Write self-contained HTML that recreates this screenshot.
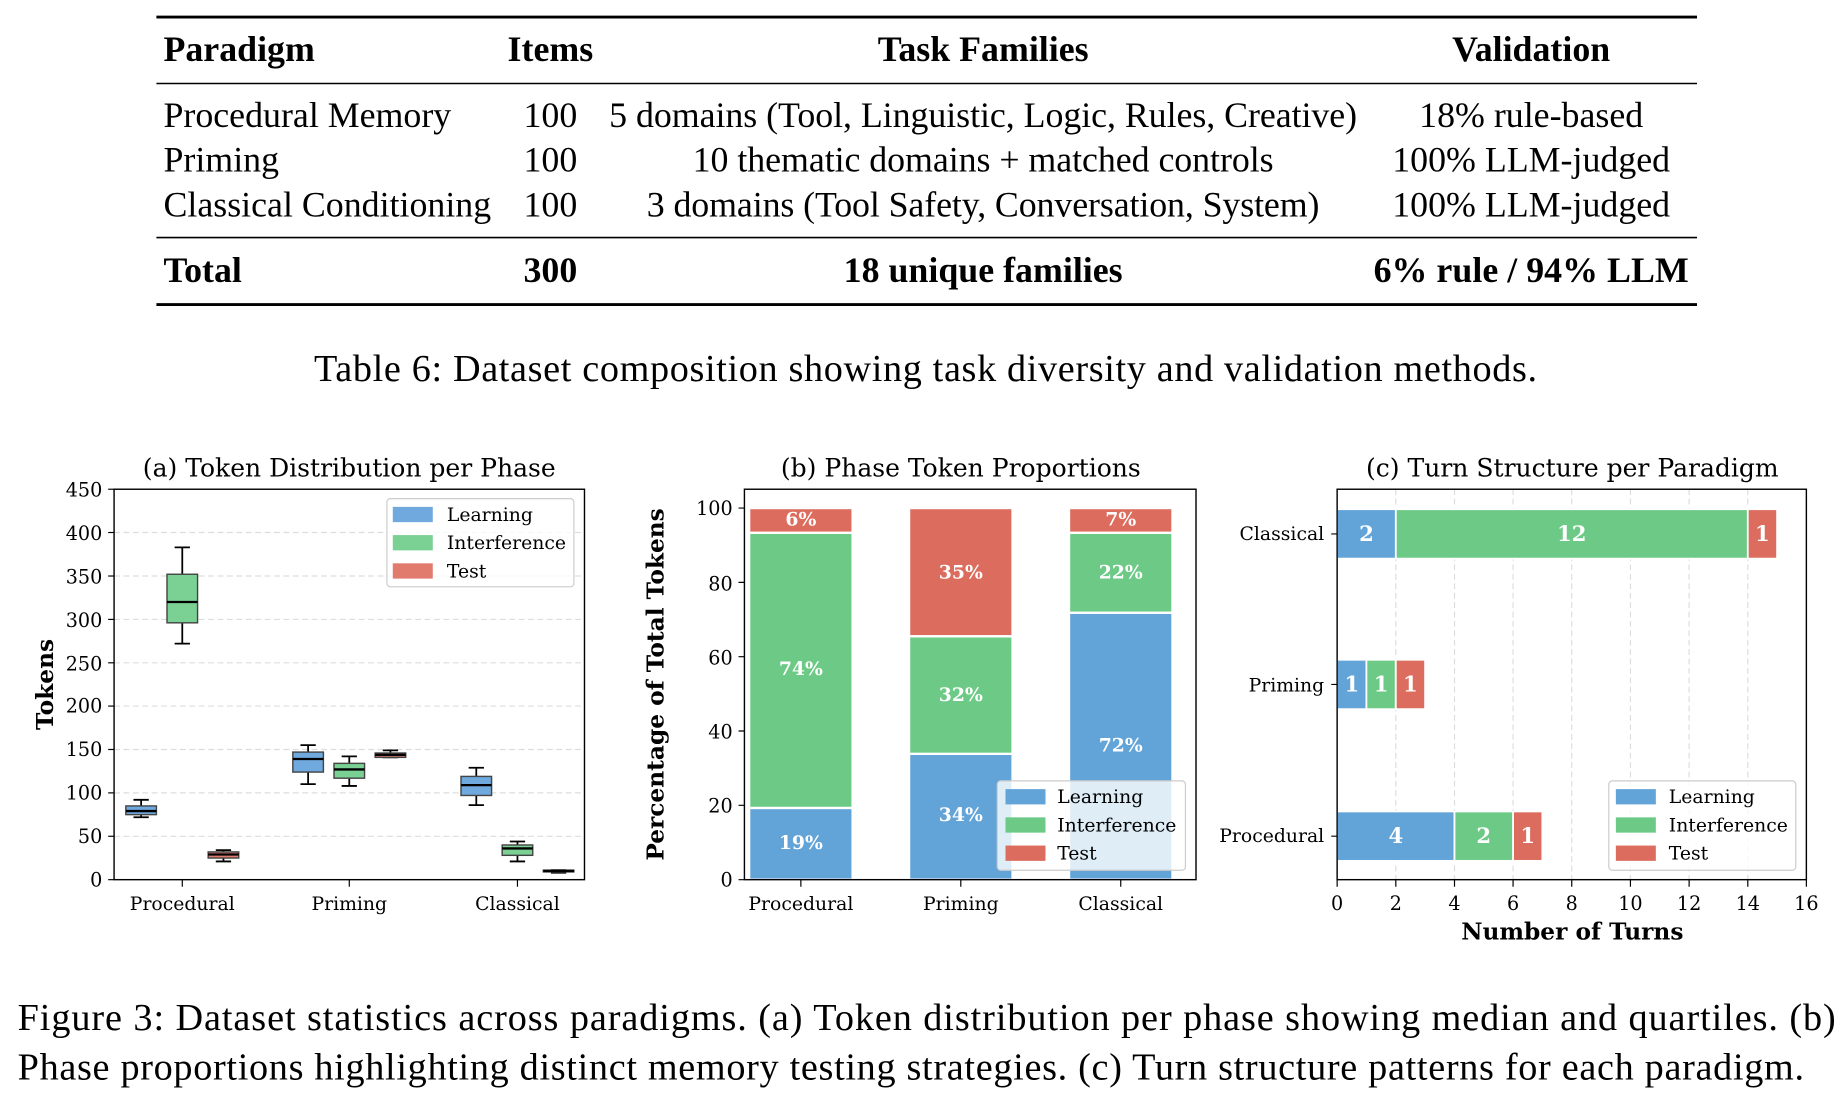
<!DOCTYPE html>
<html><head><meta charset="utf-8"><style>
html,body{margin:0;padding:0;background:#fff;}
svg{display:block;}
.tm{font-family:"Liberation Serif",serif;fill:#000;}
.dv{font-family:"DejaVu Serif","Liberation Serif",serif;fill:#000;}
</style></head><body>
<svg width="1844" height="1104" viewBox="0 0 1568 938.75" preserveAspectRatio="none" xmlns="http://www.w3.org/2000/svg">
<rect width="1568" height="938.75" fill="#fff"/>
<line x1="133" y1="14.5" x2="1443" y2="14.5" stroke="#000" stroke-width="2.4"/>
<line x1="133" y1="71" x2="1443" y2="71" stroke="#000" stroke-width="1.3"/>
<line x1="133" y1="202" x2="1443" y2="202" stroke="#000" stroke-width="1.3"/>
<line x1="133" y1="259" x2="1443" y2="259" stroke="#000" stroke-width="2.4"/>
<g class="tm" font-size="30.5">
<g font-weight="bold">
<text x="139" y="52">Paradigm</text>
<text x="468" y="52" text-anchor="middle">Items</text>
<text x="836" y="52" text-anchor="middle">Task Families</text>
<text x="1302" y="52" text-anchor="middle">Validation</text>
<text x="139" y="240">Total</text>
<text x="468" y="240" text-anchor="middle">300</text>
<text x="836" y="240" text-anchor="middle">18 unique families</text>
<text x="1302" y="240" text-anchor="middle" textLength="268">6% rule / 94% LLM</text>
</g>
<text x="139" y="108">Procedural Memory</text>
<text x="139" y="146">Priming</text>
<text x="139" y="184">Classical Conditioning</text>
<text x="468" y="108" text-anchor="middle">100</text>
<text x="468" y="146" text-anchor="middle">100</text>
<text x="468" y="184" text-anchor="middle">100</text>
<text x="836" y="108" text-anchor="middle" textLength="636">5 domains (Tool, Linguistic, Logic, Rules, Creative)</text>
<text x="836" y="146" text-anchor="middle" textLength="494">10 thematic domains + matched controls</text>
<text x="836" y="184" text-anchor="middle" textLength="572">3 domains (Tool Safety, Conversation, System)</text>
<text x="1302" y="108" text-anchor="middle">18% rule-based</text>
<text x="1302" y="146" text-anchor="middle">100% LLM-judged</text>
<text x="1302" y="184" text-anchor="middle">100% LLM-judged</text>
<text x="787" y="324" text-anchor="middle" font-size="32.5" textLength="1040">Table 6: Dataset composition showing task diversity and validation methods.</text>
<text x="15" y="876" font-size="32.5" textLength="1546">Figure 3: Dataset statistics across paradigms. (a) Token distribution per phase showing median and quartiles. (b)</text>
<text x="15" y="918" font-size="32.5" textLength="1519">Phase proportions highlighting distinct memory testing strategies. (c) Turn structure patterns for each paradigm.</text>
</g>

<!-- PANEL A -->
<g class="dv">
<text x="297" y="405" text-anchor="middle" font-size="21.3">(a) Token Distribution per Phase</text>
<g stroke="#ddd" stroke-width="1" stroke-dasharray="5,3">
<line x1="97" x2="497" y1="711.1" y2="711.1"/><line x1="97" x2="497" y1="674.2" y2="674.2"/>
<line x1="97" x2="497" y1="637.3" y2="637.3"/><line x1="97" x2="497" y1="600.4" y2="600.4"/>
<line x1="97" x2="497" y1="563.6" y2="563.6"/><line x1="97" x2="497" y1="526.7" y2="526.7"/>
<line x1="97" x2="497" y1="489.8" y2="489.8"/><line x1="97" x2="497" y1="452.8" y2="452.8"/>
</g>
<g font-size="16.3" text-anchor="end">
<text x="87" y="754">0</text><text x="87" y="717">50</text><text x="87" y="680">100</text>
<text x="87" y="643">150</text><text x="87" y="606">200</text><text x="87" y="570">250</text>
<text x="87" y="533">300</text><text x="87" y="496">350</text><text x="87" y="459">400</text><text x="87" y="422">450</text>
</g>
<g stroke="#000" stroke-width="1">
<line x1="92" x2="97" y1="748" y2="748"/><line x1="92" x2="97" y1="711.1" y2="711.1"/><line x1="92" x2="97" y1="674.2" y2="674.2"/>
<line x1="92" x2="97" y1="637.3" y2="637.3"/><line x1="92" x2="97" y1="600.4" y2="600.4"/><line x1="92" x2="97" y1="563.6" y2="563.6"/>
<line x1="92" x2="97" y1="526.7" y2="526.7"/><line x1="92" x2="97" y1="489.8" y2="489.8"/><line x1="92" x2="97" y1="452.8" y2="452.8"/><line x1="92" x2="97" y1="416" y2="416"/>
<line x1="155" x2="155" y1="748" y2="754"/><line x1="297" x2="297" y1="748" y2="754"/><line x1="440" x2="440" y1="748" y2="754"/>
</g>
<text transform="translate(45,582) rotate(-90)" text-anchor="middle" font-size="19.8" font-weight="bold">Tokens</text>
<g font-size="16" text-anchor="middle">
<text x="155" y="774">Procedural</text><text x="297" y="774">Priming</text><text x="440" y="774">Classical</text>
</g>
<g stroke="#000" stroke-width="1.5">
<path d="M120,694.9V692.7M120,685.3V680.1M113.5,694.9H126.5M113.5,680.1H126.5"/>
<path d="M155,547.3V529.6M155,488.3V465.4M148.5,547.3H161.5M148.5,465.4H161.5"/>
<path d="M190,732.5V729.6M190,724.4V722.9M183.5,732.5H196.5M183.5,722.9H196.5"/>
<path d="M262,666.8V656.5M262,639.5V633.6M255.5,666.8H268.5M255.5,633.6H268.5"/>
<path d="M297,668.3V661.7M297,649.1V643.2M290.5,668.3H303.5M290.5,643.2H303.5"/>
<path d="M332,644V641.8M332,640.3V638.1M325.5,644H338.5M325.5,638.1H338.5"/>
<path d="M405,684.6V676.4M405,660.2V652.8M398.5,684.6H411.5M398.5,652.8H411.5"/>
<path d="M440,732.5V727.3M440,718.5V715.5M433.5,732.5H446.5M433.5,715.5H446.5"/>
<path d="M475,742.1V741.4M468.5,742.1H481.5M468.5,739.9H481.5"/>
</g>
<g stroke="#444" stroke-width="1.2">
<rect x="107" y="685.3" width="26" height="7.4" fill="#6fa9de"/>
<rect x="142" y="488.3" width="26" height="41.3" fill="#7bd093"/>
<rect x="177" y="724.4" width="26" height="5.2" fill="#e07b6e"/>
<rect x="249" y="639.5" width="26" height="17" fill="#6fa9de"/>
<rect x="284" y="649.1" width="26" height="12.6" fill="#7bd093"/>
<rect x="319" y="640.3" width="26" height="3.7" fill="#e07b6e"/>
<rect x="392" y="660.2" width="26" height="16.2" fill="#6fa9de"/>
<rect x="427" y="718.5" width="26" height="8.8" fill="#7bd093"/>
<rect x="462" y="739.9" width="26" height="1.5" fill="#e07b6e"/>
</g>
<g stroke="#000" stroke-width="2">
<path d="M107,689.7H133M142,511.9H168M177,726.6H203M249,645.4H275M284,654.3H310M319,641.8H345M392,667.6H418M427,721.4H453M462,740.6H488"/>
</g>
<rect x="97" y="416" width="400" height="332" fill="none" stroke="#000" stroke-width="1.2"/>
<rect x="329" y="424" width="159" height="75" rx="3" fill="#fff" fill-opacity="0.8" stroke="#ccc" stroke-width="1"/>
<rect x="334" y="431" width="34" height="13" fill="#6fa9de"/>
<rect x="334" y="455" width="34" height="13" fill="#7bd093"/>
<rect x="334" y="479" width="34" height="13" fill="#e07b6e"/>
<g font-size="16"><text x="380" y="443">Learning</text><text x="380" y="467">Interference</text><text x="380" y="491">Test</text></g>
</g>

<!-- PANEL B -->
<g class="dv">
<text x="817" y="405" text-anchor="middle" font-size="21.3">(b) Phase Token Proportions</text>
<g stroke="#fff" stroke-width="2">
<rect x="637" y="687" width="88" height="61" fill="#62a3d8"/>
<rect x="637" y="453" width="88" height="234" fill="#6dca86"/>
<rect x="637" y="432" width="88" height="21" fill="#dc6c5d"/>
<rect x="773" y="641" width="88" height="107" fill="#62a3d8"/>
<rect x="773" y="541" width="88" height="100" fill="#6dca86"/>
<rect x="773" y="432" width="88" height="109" fill="#dc6c5d"/>
<rect x="909" y="521" width="88" height="227" fill="#62a3d8"/>
<rect x="909" y="453" width="88" height="68" fill="#6dca86"/>
<rect x="909" y="432" width="88" height="21" fill="#dc6c5d"/>
</g>
<g fill="#fff" font-size="16" font-weight="bold" text-anchor="middle">
<text x="681" y="722">19%</text><text x="681" y="574">74%</text><text x="681" y="447">6%</text>
<text x="817" y="698">34%</text><text x="817" y="596">32%</text><text x="817" y="492">35%</text>
<text x="953" y="639">72%</text><text x="953" y="492">22%</text><text x="953" y="447">7%</text>
</g>
<g font-size="16.3" text-anchor="end">
<text x="623" y="754">0</text><text x="623" y="691">20</text><text x="623" y="628">40</text>
<text x="623" y="565">60</text><text x="623" y="502">80</text><text x="623" y="438">100</text>
</g>
<g stroke="#000" stroke-width="1">
<path d="M628,748H633M628,684.8H633M628,621.6H633M628,558.4H633M628,495.2H633M628,432H633M681,748V754M817,748V754M953,748V754"/>
</g>
<text transform="translate(564,582) rotate(-90)" text-anchor="middle" font-size="19.8" font-weight="bold">Percentage of Total Tokens</text>
<g font-size="16" text-anchor="middle">
<text x="681" y="774">Procedural</text><text x="817" y="774">Priming</text><text x="953" y="774">Classical</text>
</g>
<rect x="633" y="416" width="384" height="332" fill="none" stroke="#000" stroke-width="1.2"/>
<rect x="848" y="664" width="160" height="76" rx="3" fill="#fff" fill-opacity="0.8" stroke="#ccc" stroke-width="1"/>
<rect x="855" y="671" width="34" height="13" fill="#62a3d8"/>
<rect x="855" y="695" width="34" height="13" fill="#6dca86"/>
<rect x="855" y="719" width="34" height="13" fill="#dc6c5d"/>
<g font-size="16"><text x="899" y="683">Learning</text><text x="899" y="707">Interference</text><text x="899" y="731">Test</text></g>
</g>

<!-- PANEL C -->
<g class="dv">
<text x="1337" y="405" text-anchor="middle" font-size="21.3">(c) Turn Structure per Paradigm</text>
<g stroke="#ddd" stroke-width="1" stroke-dasharray="5,3">
<path d="M1186.9,416V748M1236.8,416V748M1286.6,416V748M1336.5,416V748M1386.4,416V748M1436.3,416V748M1486.2,416V748"/>
</g>
<g stroke="#fff" stroke-width="1.5">
<rect x="1137" y="433" width="49.9" height="42" fill="#62a3d8"/>
<rect x="1186.9" y="433" width="299.3" height="42" fill="#6dca86"/>
<rect x="1486.2" y="433" width="24.9" height="42" fill="#dc6c5d"/>
<rect x="1137" y="561" width="24.9" height="42" fill="#62a3d8"/>
<rect x="1161.9" y="561" width="24.9" height="42" fill="#6dca86"/>
<rect x="1186.9" y="561" width="24.9" height="42" fill="#dc6c5d"/>
<rect x="1137" y="690" width="99.8" height="42" fill="#62a3d8"/>
<rect x="1236.8" y="690" width="49.9" height="42" fill="#6dca86"/>
<rect x="1286.6" y="690" width="24.9" height="42" fill="#dc6c5d"/>
</g>
<g fill="#fff" font-size="18" font-weight="bold" text-anchor="middle">
<text x="1162" y="460">2</text><text x="1336.5" y="460">12</text><text x="1498.6" y="460">1</text>
<text x="1149.5" y="588">1</text><text x="1174.4" y="588">1</text><text x="1199.3" y="588">1</text>
<text x="1186.9" y="717">4</text><text x="1261.7" y="717">2</text><text x="1299.1" y="717">1</text>
</g>
<g font-size="16" text-anchor="end">
<text x="1126" y="459">Classical</text><text x="1126" y="588">Priming</text><text x="1126" y="716">Procedural</text>
</g>
<g font-size="16.3" text-anchor="middle">
<text x="1137" y="774">0</text><text x="1186.9" y="774">2</text><text x="1236.8" y="774">4</text><text x="1286.6" y="774">6</text>
<text x="1336.5" y="774">8</text><text x="1386.4" y="774">10</text><text x="1436.3" y="774">12</text><text x="1486.2" y="774">14</text><text x="1536" y="774">16</text>
</g>
<g stroke="#000" stroke-width="1">
<path d="M1132,454H1137M1132,582H1137M1132,711H1137M1137,748V754M1186.9,748V754M1236.8,748V754M1286.6,748V754M1336.5,748V754M1386.4,748V754M1436.3,748V754M1486.2,748V754M1536,748V754"/>
</g>
<text x="1337" y="799" text-anchor="middle" font-size="19.8" font-weight="bold">Number of Turns</text>
<rect x="1137" y="416" width="399" height="332" fill="none" stroke="#000" stroke-width="1.2"/>
<rect x="1368" y="664" width="159" height="76" rx="3" fill="#fff" fill-opacity="0.8" stroke="#ccc" stroke-width="1"/>
<rect x="1374" y="671" width="34" height="13" fill="#62a3d8"/>
<rect x="1374" y="695" width="34" height="13" fill="#6dca86"/>
<rect x="1374" y="719" width="34" height="13" fill="#dc6c5d"/>
<g font-size="16"><text x="1419" y="683">Learning</text><text x="1419" y="707">Interference</text><text x="1419" y="731">Test</text></g>
</g>
</svg>
</body></html>
